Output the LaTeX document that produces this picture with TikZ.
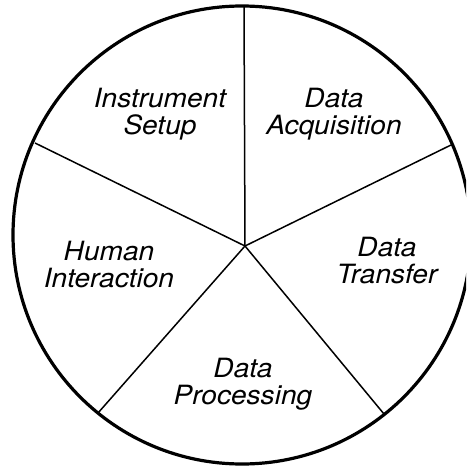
\documentclass[tikz,border=0pt]{standalone}
\usepackage{fontspec}
\setmainfont{TeX Gyre Heros}[FakeStretch=1.06]
\begin{document}
\begin{tikzpicture}[x=1pt,y=-1pt,
  lbl/.style={font=\fontsize{26.5}{27}\selectfont\itshape, align=center, anchor=base, inner sep=0pt},
  rim/.style={line width=3.2pt},
  spoke/.style={line width=1.5pt}]
\useasboundingbox (0,0) rectangle (466,468);
\clip (0,0) rectangle (466,468);
\fill[white] (0,0) rectangle (466,468);
\coordinate (c) at (242,235);
\coordinate (hub) at (245,246);
\coordinate (pT) at (244,6);
\coordinate (pUL) at (35,143);
\coordinate (pUR) at (451,145);
\coordinate (pLR) at (384,414);
\coordinate (pLL) at (98,413);
\draw[rim] (c) circle[radius=229];
\draw[spoke] (hub) -- (pT);
\draw[spoke] (hub) -- (pUL);
\draw[spoke] (hub) -- (pUR);
\draw[spoke] (hub) -- (pLR);
\draw[spoke] (hub) -- (pLL);
\node[lbl] (is) at (160,135) {Instrument\\Setup};
\node[lbl] (da) at (334,134) {Data\\Acquisition};
\node[lbl] (hi) at (109,287) {Human\\Interaction};
\node[lbl] (dt) at (387,283) {Data\\Transfer};
\node[lbl] (dp) at (243,404) {Data\\Processing};
\end{tikzpicture}
\end{document}
